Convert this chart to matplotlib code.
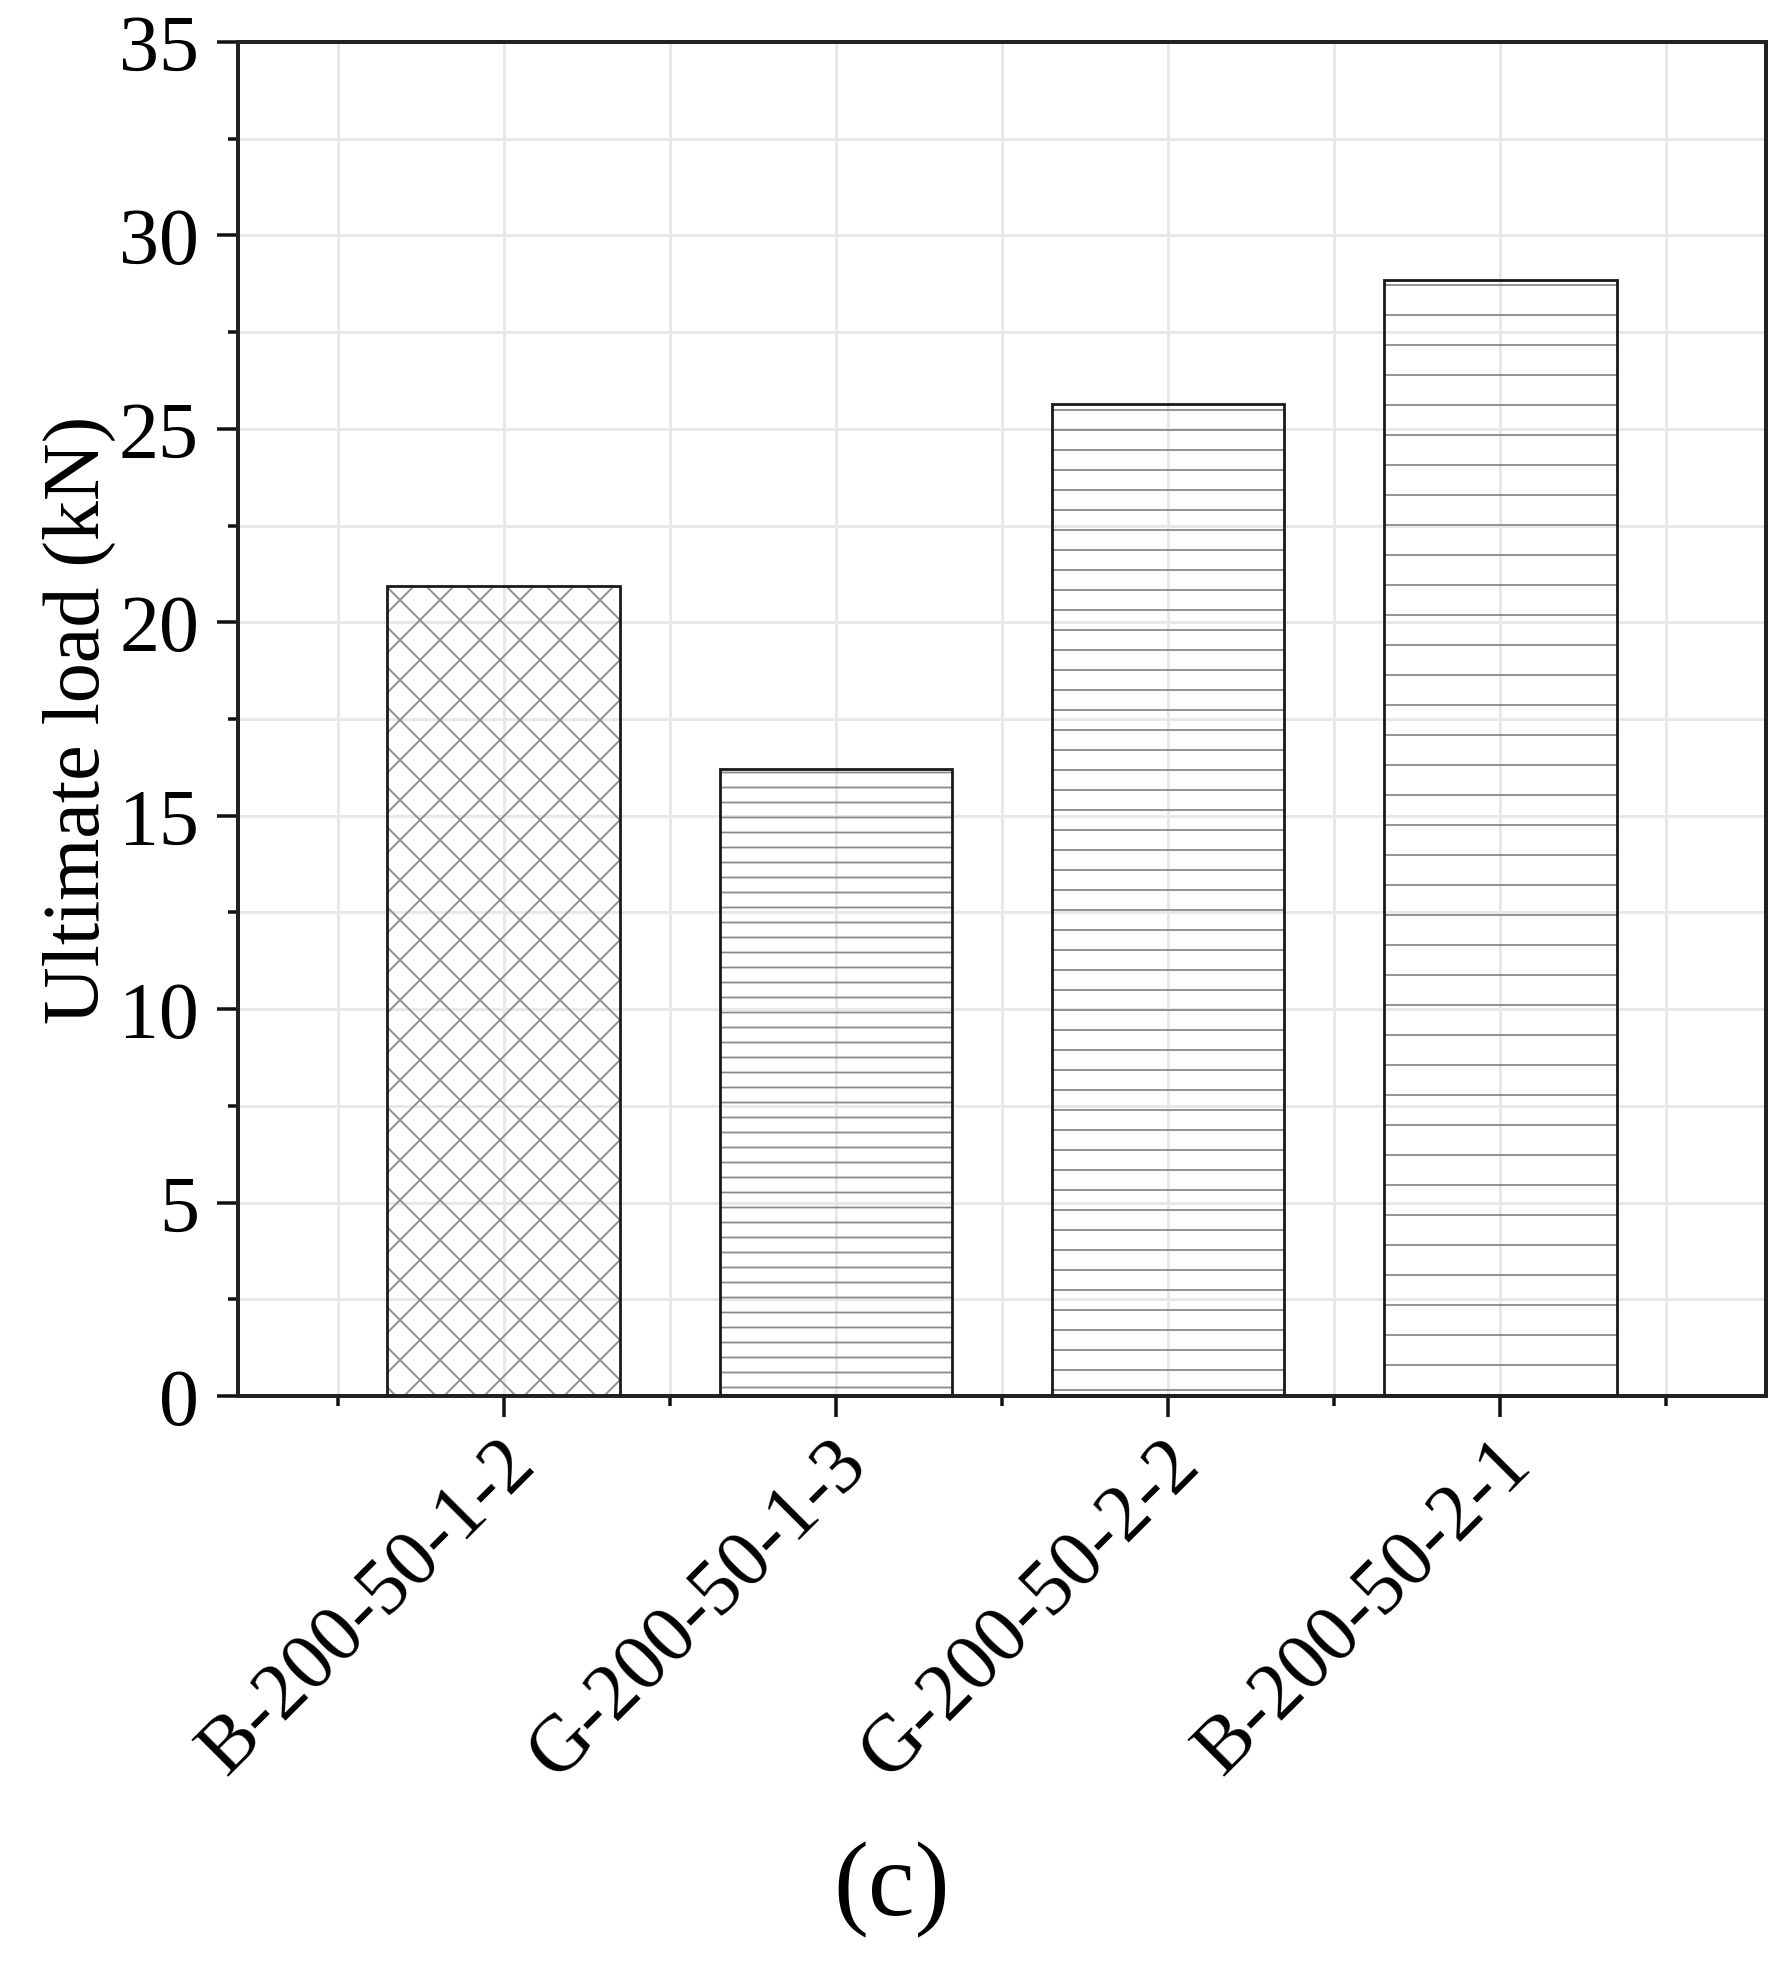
import matplotlib
matplotlib.use('Agg')
import matplotlib.pyplot as plt
from matplotlib.ticker import FixedLocator, MultipleLocator
import matplotlib.transforms as mtransforms

# ---- data ----
categories = ['B-200-50-1-2', 'G-200-50-1-3', 'G-200-50-2-2', 'B-200-50-2-1']
ultimate_load = [20.95, 16.2, 25.65, 28.85]
hatches = ['xxxxxx', '--------', '------', '----']
y_ticks = [0, 5, 10, 15, 20, 25, 30, 35]
x_minor = [-0.5, 0.5, 1.5, 2.5, 3.5]

DPI = 720
W, H = 1784, 1971
px = 72.0 / DPI  # points per pixel

plt.rcParams['font.family'] = ['Liberation Serif', 'DejaVu Serif']
plt.rcParams['hatch.linewidth'] = 1.8 * px

fig = plt.figure(figsize=(W / DPI, H / DPI), dpi=DPI)
ax = fig.add_axes([238 / W, 1 - 1397 / H, (1766 - 238) / W, (1397 - 43) / H])

x = list(range(len(categories)))
# hatch pass (gray)
hb = ax.bar(x, ultimate_load, width=0.70, facecolor='none', edgecolor='#8a8a8a',
            linewidth=0, zorder=2)
for p, h in zip(hb, hatches):
    p.set_hatch(h)
# outline pass
ax.bar(x, ultimate_load, width=0.70, facecolor='none', edgecolor='#1a1a1a',
       linewidth=2.8 * px, zorder=3)

ax.set_xlim(-0.8, 3.8)
ax.set_ylim(0, 35)

ax.set_xticks(x)
ax.set_xticklabels(categories, rotation=45, ha='right', va='top', rotation_mode='anchor')
ax.xaxis.set_minor_locator(FixedLocator(x_minor))
ax.yaxis.set_major_locator(FixedLocator(y_ticks))
ax.yaxis.set_minor_locator(MultipleLocator(2.5))

ax.tick_params(which='major', direction='out', length=21 * px, width=3.5 * px,
               labelsize=8, top=False, right=False, color='#111111')
ax.tick_params(which='minor', direction='out', length=10 * px, width=3.5 * px,
               top=False, right=False, color='#111111')
ax.tick_params(axis='y', which='major', pad=18 * px)
ax.tick_params(axis='x', which='major', pad=9 * px)

off = mtransforms.ScaledTranslation(-6 / DPI, 0, fig.dpi_scale_trans)
for lbl in ax.get_xticklabels():
    lbl.set_transform(lbl.get_transform() + off)

ax.grid(True, which='both', color='#e8e8e8', linewidth=3 * px)
ax.set_axisbelow(True)

for s in ax.spines.values():
    s.set_linewidth(4 * px)
    s.set_color('#222222')

ax.set_ylabel('Ultimate load (kN)', fontsize=8, va='center')
ax.yaxis.set_label_coords(-0.104, 0.5)

fig.text(0.5, (H - 1915) / H, '(c)', ha='center', va='baseline', fontsize=10.5)

fig.savefig('out.png', dpi=DPI)
